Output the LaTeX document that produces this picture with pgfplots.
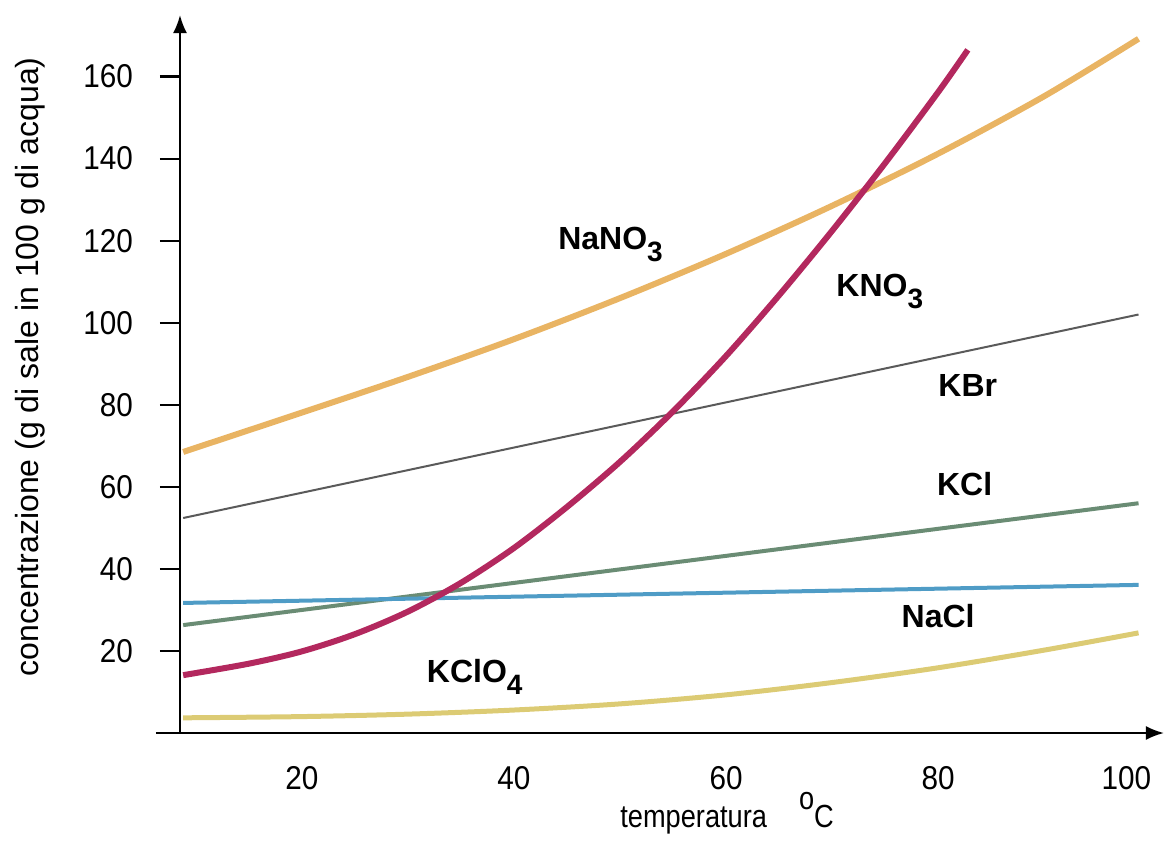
\documentclass[border=0pt]{standalone}
\usepackage{fontspec}
\setmainfont{Liberation Sans}
\newfontfamily\narrowfont[FakeStretch=0.85]{Liberation Sans}
\newfontfamily\ticknarrow[FakeStretch=0.9]{Liberation Sans}
\usepackage{pgfplots}
\pgfplotsset{compat=1.18}
\usetikzlibrary{arrows.meta}
\definecolor{nano3}{HTML}{E9B463}
\definecolor{kno3}{HTML}{B3285E}
\definecolor{kbr}{HTML}{5A5A5A}
\definecolor{kcl}{HTML}{6A8C74}
\definecolor{nacl}{HTML}{4F9CC6}
\definecolor{kclo4}{HTML}{DCCB74}
\newcommand{\lbl}[2]{\textbf{#1\raisebox{-0.38em}{\fontsize{14}{14}\selectfont #2}}}
\begin{document}
\begin{tikzpicture}
\begin{axis}[
  at={(0,0)}, anchor=south west,
  scale only axis, width=492pt, height=359pt,
  xmin=8.5, xmax=101.3, ymin=0, ymax=175,
  axis x line=bottom, axis y line=left,
  axis line style={line width=1.1pt, -{Latex[length=9pt,width=7pt]}},
  x axis line style={shorten <=-12pt},
  xtick={20,40,60,80},
  extra x ticks={100},
  extra x tick style={xticklabel style={anchor=north east, xshift=4pt}, tick style={draw=none}},
  x tick style={draw=none},
  ytick={20,40,...,160},
  tick align=outside,
  major tick length=10pt,
  y tick style={line width=1.1pt, black},
  tick label style={font=\ticknarrow\fontsize{16.5}{18}\selectfont},
  /pgf/number format/assume math mode=true,
  yticklabel style={xshift=-10pt},
  xticklabel style={yshift=-3pt},
  ylabel={concentrazione (g di sale in 100 g di acqua)},
  xlabel={temperatura\quad\raisebox{0.55em}{o}C},
  every axis y label/.style={at={([xshift=-75pt]axis description cs:0,0.51)}, rotate=90, anchor=center, font=\fontsize{16}{18}\selectfont},
  every axis x label/.style={at={(axis description cs:0.556,0)}, anchor=center, yshift=-40pt, font=\narrowfont\fontsize{16}{18}\selectfont},
  clip=false,
]
\addplot[color=kbr, line width=1pt] coordinates {(8.8,52.4) (98.9,102)};
\addplot[color=kcl, line width=2pt] coordinates {(8.8,26.3) (98.9,56)};
\addplot[color=nacl, line width=2pt] coordinates {(8.8,31.7) (98.9,36.1)};
\addplot[color=kclo4, line width=2.5pt, smooth] coordinates {(8.8,3.7) (20,4.0) (30,4.6) (40,5.6) (50,7.1) (60,9.3) (70,12.3) (80,15.9) (90,20.2) (98.9,24.4)};
\addplot[color=nano3, line width=3pt, smooth] coordinates {(8.8,68.5) (20,78.1) (30,86.8) (40,96.0) (50,106.0) (60,116.8) (70,128.5) (80,141.2) (90,155.2) (98.9,169.2)};
\addplot[color=kno3, line width=3pt, smooth] coordinates {(8.8,14.1) (15,16.9) (20,19.9) (25,24.1) (30,29.6) (35,36.6) (40,45.1) (45,55.1) (50,66.1) (55,78.4) (60,91.9) (65,106.7) (70,122.4) (75,138.9) (80,156.2) (82.8,166.5)};
\node[font=\fontsize{16}{18}\selectfont] at (axis cs:49.1,119) {\lbl{NaNO}{3}};
\node[font=\fontsize{16}{18}\selectfont] at (axis cs:74.5,107.6) {\lbl{KNO}{3}};
\node[font=\fontsize{16}{18}\selectfont] at (axis cs:82.8,83.2) {\lbl{KBr}{}};
\node[font=\fontsize{16}{18}\selectfont] at (axis cs:82.5,59.3) {\lbl{KCl}{}};
\node[font=\fontsize{16}{18}\selectfont] at (axis cs:80,27) {\lbl{NaCl}{}};
\node[font=\fontsize{16}{18}\selectfont] at (axis cs:36.3,13.7) {\lbl{KClO}{4}};
\end{axis}
\pgfresetboundingbox
\path[use as bounding box] (-90pt,-54.5pt) rectangle (494.5pt,366.5pt);
\end{tikzpicture}
\end{document}
